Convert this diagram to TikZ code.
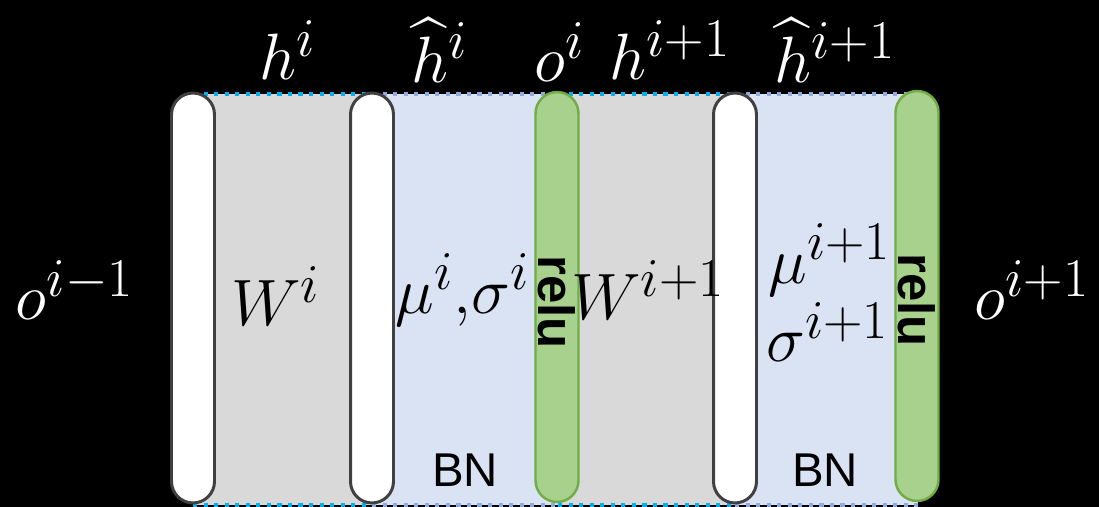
\documentclass[tikz,border=0pt]{standalone}
\usepackage{amsmath}
\usepackage{fontspec}
\setsansfont{Liberation Sans}
\usepackage{tikz}
\usetikzlibrary{positioning}
\definecolor{wgray}{HTML}{D9D9D9}
\definecolor{bnblue}{HTML}{DAE3F3}
\definecolor{dotcyan}{HTML}{00B0F0}
\definecolor{dotblue}{HTML}{8FAADC}
\definecolor{barline}{HTML}{404040}
\definecolor{relufill}{HTML}{A9D18E}
\definecolor{reluline}{HTML}{70AD47}

\begin{document}
\begin{tikzpicture}[x=0.02cm,y=-0.02cm,
  every node/.style={inner sep=1pt},
  mathlbl/.style={font=\Huge,scale=1.5},
  hbar/.style={draw=barline,line width=1.7pt,fill=white,rounded corners=0.43cm,
    minimum width=0.86cm,minimum height=8.2cm,inner sep=0pt},
  relubar/.style={draw=reluline,line width=1.4pt,fill=relufill,rounded corners=0.43cm,
    minimum width=0.86cm,minimum height=8.2cm,inner sep=0pt},
  reluname/.style={font=\sffamily\bfseries\fontsize{29}{30}\selectfont,rotate=-90},
  bnname/.style={font=\sffamily\fontsize{27}{30}\selectfont},
  outer/.style={mathlbl,text=white},
  dotedge/.style={line width=2.4pt,dash pattern=on 2.4pt off 3.6pt}
]
  \useasboundingbox[fill=black] (0,0) rectangle (1099,507);

  % layer bodies
  \fill[wgray]  (193,94) rectangle (372,505);
  \fill[bnblue] (372,94) rectangle (558,505);
  \fill[wgray]  (558,94) rectangle (735,505);
  \fill[bnblue] (735,94) rectangle (918,505);
  \draw[dotedge,dotcyan] (193,94) -- (372,94);
  \draw[dotedge,dotcyan] (193,505) -- (372,505);
  \draw[dotedge,dotblue] (372,94) -- (558,94);
  \draw[dotedge,dotblue] (372,505) -- (558,505);
  \draw[dotedge,dotcyan] (558,94) -- (735,94);
  \draw[dotedge,dotcyan] (558,505) -- (735,505);
  \draw[dotedge,dotblue] (735,94) -- (918,94);
  \draw[dotedge,dotblue] (735,505) -- (918,505);

  % bars
  \node[hbar] (h1) at (193,298) {};
  \node[hbar] (hh1) at (372,298) {};
  \node[relubar] (o1) at (557,297) {};
  \node[hbar] (h2) at (735,298) {};
  \node[relubar] (o2) at (917,296) {};

  \node[reluname] (r1) at (557,302) {relu};
  \node[reluname] (r2) at (917,300) {relu};

  % inside labels
  \node[mathlbl] (w1) at (276,296) {$W^{i}$};
  \node[mathlbl] (ms1) at (463,290) {$\mu^{i}{,}\sigma^{i}$};
  \node[mathlbl] (w2) at (648,290) {$W^{i+1}$};
  \node[mathlbl] (m2) at (830,260) {$\mu^{i+1}$};
  \node[mathlbl] (s2) at (828,332) {$\sigma^{i+1}$};
  \node[bnname] (bn1) at (465,470) {BN};
  \node[bnname] (bn2) at (825,470) {BN};

  % outside labels
  \node[outer] (in) at (75,290) {$o^{i-1}$};
  \node[outer] (out) at (1032,290) {$o^{i+1}$};
  \node[outer] (th1) at (288,50) {$h^{i}$};
  \node[outer] (thh1) at (440,50) {$\widehat{h}^{i}$};
  \node[outer] (to1) at (560,52) {$o^{i}$};
  \node[outer] (th2) at (670,50) {$h^{i+1}$};
  \node[outer] (thh2) at (835,50) {$\widehat{h}^{i+1}$};
\end{tikzpicture}
\end{document}
